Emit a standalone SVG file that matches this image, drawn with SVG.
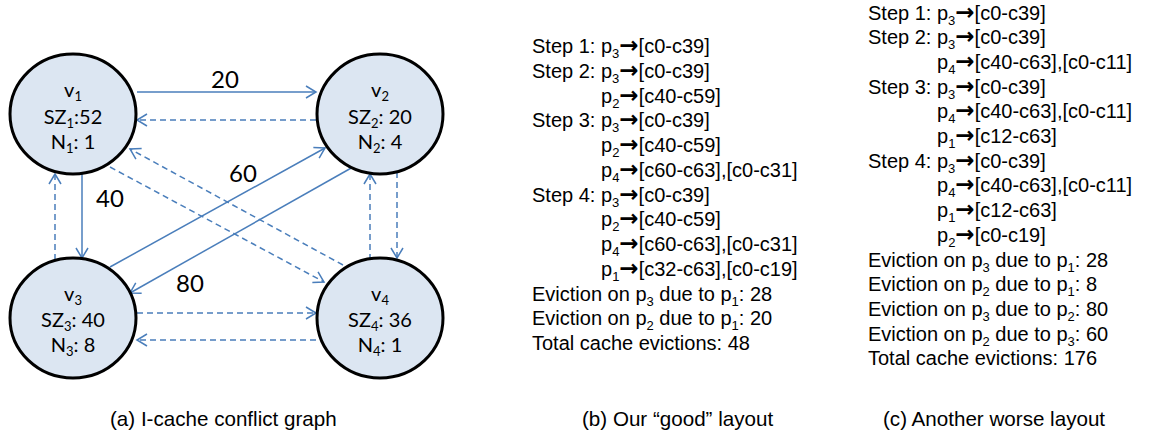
<svg xmlns="http://www.w3.org/2000/svg" width="1166" height="441" viewBox="0 0 1166 441">
  <style>
    .node ellipse { fill: #dce6f2; stroke: #000; stroke-width: 3; }
    .node text { font-family: Lato, "Open Sans", sans-serif; font-size: 20px; fill: #000; text-anchor: middle; }
    .sub { font-size: 13px; }
    .ar { font-family: "DejaVu Sans", sans-serif; font-weight: bold; font-size: 23px; }
    .edge { fill: none; stroke: #4a7ebb; stroke-width: 1.5; marker-end: url(#arrow); }
    .dash { stroke-dasharray: 6 4; }
    .elabel { font-family: Lato, "Open Sans", sans-serif; font-size: 24px; fill: #000; text-anchor: middle; }
    .steps text { font-family: "Liberation Sans", Arial, sans-serif; font-size: 20px; fill: #000; }
    .caption { font-family: "Liberation Sans", Arial, sans-serif; font-size: 20.6px; fill: #000; }
  </style>
  <defs>
    <marker id="arrow" markerUnits="userSpaceOnUse" markerWidth="14" markerHeight="14" viewBox="-12 -7 14 14" refX="0" refY="0" orient="auto">
      <path d="M-10,-6 L0,0 L-10,6" fill="none" stroke="#4a7ebb" stroke-width="1.5"/>
    </marker>
  </defs>

  <rect width="1166" height="441" fill="#fff"/>

  <!-- conflict graph edges -->
  <g id="connectors">
    <path class="edge" d="M137,92 L316,92"/>
    <path class="edge dash" d="M316,120 L137,120"/>
    <path class="edge dash" d="M343,265 L130,149"/>
    <path class="edge dash" d="M110,167 L324,282"/>
    <path class="edge" d="M110,267 L325,148"/>
    <path class="edge" d="M353,167 L130,293"/>
    <path class="edge" d="M82,174 L82,258"/>
    <path class="edge dash" d="M55,260 L55,174"/>
    <path class="edge dash" d="M370,260 L370,174"/>
    <path class="edge dash" d="M397,172 L397,258"/>
    <path class="edge dash" d="M137,313 L316,313"/>
    <path class="edge dash" d="M316,340 L137,340"/>
    <text class="elabel" x="225" y="88">20</text>
    <text class="elabel" x="243" y="182">60</text>
    <text class="elabel" x="110" y="207">40</text>
    <text class="elabel" x="190" y="292">80</text>
  </g>

  <g id="v1" class="node">
    <ellipse cx="73" cy="114" rx="63" ry="60"/>
    <text x="73" y="97">v<tspan class="sub" dy="4">1</tspan></text>
    <text x="73" y="124">SZ<tspan class="sub" dy="4">1</tspan><tspan dy="-4">:52</tspan></text>
    <text x="73" y="149">N<tspan class="sub" dy="4">1</tspan><tspan dy="-4">: 1</tspan></text>
  </g>
  <g id="v2" class="node">
    <ellipse cx="380" cy="114" rx="63" ry="60"/>
    <text x="380" y="97">v<tspan class="sub" dy="4">2</tspan></text>
    <text x="380" y="124">SZ<tspan class="sub" dy="4">2</tspan><tspan dy="-4">: 20</tspan></text>
    <text x="380" y="149">N<tspan class="sub" dy="4">2</tspan><tspan dy="-4">: 4</tspan></text>
  </g>
  <g id="v3" class="node">
    <ellipse cx="73" cy="318" rx="63" ry="60"/>
    <text x="73" y="301">v<tspan class="sub" dy="4">3</tspan></text>
    <text x="73" y="327">SZ<tspan class="sub" dy="4">3</tspan><tspan dy="-4">: 40</tspan></text>
    <text x="73" y="352">N<tspan class="sub" dy="4">3</tspan><tspan dy="-4">: 8</tspan></text>
  </g>
  <g id="v4" class="node">
    <ellipse cx="380" cy="318" rx="63" ry="60"/>
    <text x="380" y="301">v<tspan class="sub" dy="4">4</tspan></text>
    <text x="380" y="327">SZ<tspan class="sub" dy="4">4</tspan><tspan dy="-4">: 36</tspan></text>
    <text x="380" y="352">N<tspan class="sub" dy="4">4</tspan><tspan dy="-4">: 1</tspan></text>
  </g>

  <!-- (b) layout steps -->
  <g id="layout-good" class="steps">
    <text x="532" y="53">Step 1: p<tspan class="sub" dy="5">3</tspan><tspan class="ar" dy="-5">→</tspan>[c0-c39]</text>
    <text x="532" y="77.75">Step 2: p<tspan class="sub" dy="5">3</tspan><tspan class="ar" dy="-5">→</tspan>[c0-c39]</text>
    <text x="601" y="102.5">p<tspan class="sub" dy="5">2</tspan><tspan class="ar" dy="-5">→</tspan>[c40-c59]</text>
    <text x="532" y="127.25">Step 3: p<tspan class="sub" dy="5">3</tspan><tspan class="ar" dy="-5">→</tspan>[c0-c39]</text>
    <text x="601" y="152">p<tspan class="sub" dy="5">2</tspan><tspan class="ar" dy="-5">→</tspan>[c40-c59]</text>
    <text x="601" y="176.75">p<tspan class="sub" dy="5">4</tspan><tspan class="ar" dy="-5">→</tspan>[c60-c63],[c0-c31]</text>
    <text x="532" y="201.5">Step 4: p<tspan class="sub" dy="5">3</tspan><tspan class="ar" dy="-5">→</tspan>[c0-c39]</text>
    <text x="601" y="226.25">p<tspan class="sub" dy="5">2</tspan><tspan class="ar" dy="-5">→</tspan>[c40-c59]</text>
    <text x="601" y="251">p<tspan class="sub" dy="5">4</tspan><tspan class="ar" dy="-5">→</tspan>[c60-c63],[c0-c31]</text>
    <text x="601" y="275.75">p<tspan class="sub" dy="5">1</tspan><tspan class="ar" dy="-5">→</tspan>[c32-c63],[c0-c19]</text>
    <text x="532" y="300.5">Eviction on p<tspan class="sub" dy="5">3</tspan><tspan dy="-5"> due to p</tspan><tspan class="sub" dy="5">1</tspan><tspan dy="-5">: 28</tspan></text>
    <text x="532" y="325.25">Eviction on p<tspan class="sub" dy="5">2</tspan><tspan dy="-5"> due to p</tspan><tspan class="sub" dy="5">1</tspan><tspan dy="-5">: 20</tspan></text>
    <text x="532" y="350">Total cache evictions: 48</text>
  </g>

  <!-- (c) layout steps -->
  <g id="layout-worse" class="steps">
    <text x="868" y="19.5">Step 1: p<tspan class="sub" dy="5">3</tspan><tspan class="ar" dy="-5">→</tspan>[c0-c39]</text>
    <text x="868" y="44.2">Step 2: p<tspan class="sub" dy="5">3</tspan><tspan class="ar" dy="-5">→</tspan>[c0-c39]</text>
    <text x="937" y="68.9">p<tspan class="sub" dy="5">4</tspan><tspan class="ar" dy="-5">→</tspan>[c40-c63],[c0-c11]</text>
    <text x="868" y="93.6">Step 3: p<tspan class="sub" dy="5">3</tspan><tspan class="ar" dy="-5">→</tspan>[c0-c39]</text>
    <text x="937" y="118.3">p<tspan class="sub" dy="5">4</tspan><tspan class="ar" dy="-5">→</tspan>[c40-c63],[c0-c11]</text>
    <text x="937" y="143">p<tspan class="sub" dy="5">1</tspan><tspan class="ar" dy="-5">→</tspan>[c12-c63]</text>
    <text x="868" y="167.7">Step 4: p<tspan class="sub" dy="5">3</tspan><tspan class="ar" dy="-5">→</tspan>[c0-c39]</text>
    <text x="937" y="192.4">p<tspan class="sub" dy="5">4</tspan><tspan class="ar" dy="-5">→</tspan>[c40-c63],[c0-c11]</text>
    <text x="937" y="217.1">p<tspan class="sub" dy="5">1</tspan><tspan class="ar" dy="-5">→</tspan>[c12-c63]</text>
    <text x="937" y="241.8">p<tspan class="sub" dy="5">2</tspan><tspan class="ar" dy="-5">→</tspan>[c0-c19]</text>
    <text x="868" y="266.5">Eviction on p<tspan class="sub" dy="5">3</tspan><tspan dy="-5"> due to p</tspan><tspan class="sub" dy="5">1</tspan><tspan dy="-5">: 28</tspan></text>
    <text x="868" y="291.2">Eviction on p<tspan class="sub" dy="5">2</tspan><tspan dy="-5"> due to p</tspan><tspan class="sub" dy="5">1</tspan><tspan dy="-5">: 8</tspan></text>
    <text x="868" y="315.9">Eviction on p<tspan class="sub" dy="5">3</tspan><tspan dy="-5"> due to p</tspan><tspan class="sub" dy="5">2</tspan><tspan dy="-5">: 80</tspan></text>
    <text x="868" y="340.6">Eviction on p<tspan class="sub" dy="5">2</tspan><tspan dy="-5"> due to p</tspan><tspan class="sub" dy="5">3</tspan><tspan dy="-5">: 60</tspan></text>
    <text x="868" y="365.3">Total cache evictions: 176</text>
  </g>

  <!-- captions -->
  <g id="captions">
    <text class="caption" x="110" y="426">(a) I-cache conflict graph</text>
    <text class="caption" x="582" y="426">(b) Our “good” layout</text>
    <text class="caption" x="883" y="426">(c) Another worse layout</text>
  </g>
</svg>
